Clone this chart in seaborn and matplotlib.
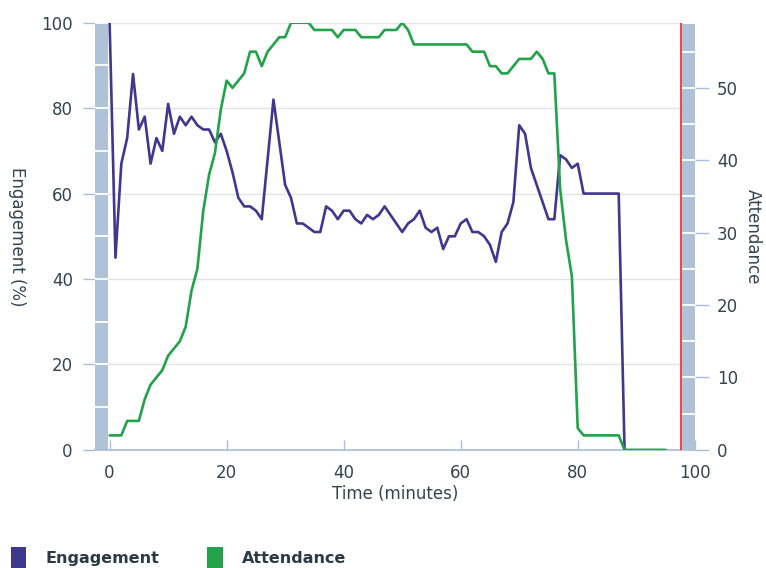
import matplotlib
matplotlib.use("Agg")
import matplotlib.pyplot as plt
from matplotlib.patches import Patch
import seaborn as sns
import pandas as pd

# engagement (%) per minute
eng_minutes = list(range(0, 89))
engagement = [100, 45, 67, 73, 88, 75, 78, 67, 73, 70,
              81, 74, 78, 76, 78, 76, 75, 75, 72, 74,
              70, 65, 59, 57, 57, 56, 54, 68, 82, 72,
              62, 59, 53, 53, 52, 51, 51, 57, 56, 54,
              56, 56, 54, 53, 55, 54, 55, 57, 55, 53,
              51, 53, 54, 56, 52, 51, 52, 47, 50, 50,
              53, 54, 51, 51, 50, 48, 44, 51, 53, 58,
              76, 74, 66, 62, 58, 54, 54, 69, 68, 66,
              67, 60, 60, 60, 60, 60, 60, 60, 0]

# attendance (people) per minute
att_minutes = list(range(0, 96))
attendance = [2, 2, 2, 4, 4, 4, 7, 9, 10, 11,
              13, 14, 15, 17, 22, 25, 33, 38, 41, 47,
              51, 50, 51, 52, 55, 55, 53, 55, 56, 57,
              57, 59, 59, 59, 59, 58, 58, 58, 58, 57,
              58, 58, 58, 57, 57, 57, 57, 58, 58, 58,
              59, 58, 56, 56, 56, 56, 56, 56, 56, 56,
              56, 56, 55, 55, 55, 53, 53, 52, 52, 53,
              54, 54, 54, 55, 54, 52, 52, 36, 29, 24,
              3, 2, 2, 2, 2, 2, 2, 2, 0, 0,
              0, 0, 0, 0, 0, 0]

x_ticks = [0, 20, 40, 60, 80, 100]
eng_ticks = [0, 20, 40, 60, 80, 100]
att_ticks = [0, 10, 20, 30, 40, 50]

PURPLE = "#40378f"
GREEN = "#22a24a"
BAND = "#b0c2d8"
TEXT = "#34444f"
TICK = "#a9bdd6"

eng_df = pd.DataFrame({"minute": eng_minutes, "engagement": engagement})
att_df = pd.DataFrame({"minute": att_minutes, "attendance": attendance})

sns.set_style("white")
plt.rcParams["font.family"] = ["DejaVu Sans"]

fig = plt.figure(figsize=(7.66, 5.68), dpi=100)
ax = fig.add_axes([0.124, 0.208, 0.783, 0.752])
ax2 = ax.twinx()

sns.lineplot(data=eng_df, x="minute", y="engagement", ax=ax, color=PURPLE, linewidth=1.9, zorder=3)
sns.lineplot(data=att_df, x="minute", y="attendance", ax=ax2, color=GREEN, linewidth=1.9, zorder=4)

ax.set_xlim(-2.5, 100)
ax.set_ylim(0, 100)
ax2.set_ylim(0, 59)

# scroll-bar like bands at both ends
ax.axvspan(-2.5, -0.3, color=BAND, lw=0, zorder=1)
ax.hlines(list(range(10, 101, 10)), -2.5, -0.3, color="white", lw=1.3, zorder=2)
ax2.axvspan(97.8, 100, color=BAND, lw=0, zorder=1)
ax2.hlines(list(range(5, 59, 5)) + [59], 97.8, 100, color="white", lw=1.3, zorder=2)
ax2.axvline(97.6, color="#e8262b", lw=1.2, zorder=5)

ax.set_yticks(eng_ticks)
ax.set_xticks(x_ticks)
ax2.set_yticks(att_ticks)
ax.yaxis.grid(True, color="#e4e4e4", lw=1)
ax.set_axisbelow(True)

for a in (ax, ax2):
    for s in a.spines.values():
        s.set_visible(False)
ax.spines["bottom"].set_visible(True)
ax.spines["bottom"].set_color(TICK)
ax.spines["bottom"].set_linewidth(1.2)

ax.tick_params(axis="y", left=True, length=9, width=1, color=TICK, pad=7, labelsize=12, labelcolor=TEXT)
ax.tick_params(axis="x", bottom=True, direction="in", length=7, width=1, color=TICK, pad=10,
               labelsize=12, labelcolor=TEXT)
ax2.tick_params(axis="y", right=True, length=10, width=1, color=TICK, pad=6, labelsize=12, labelcolor=TEXT)

ax.set_xlabel("Time (minutes)", fontsize=12, color=TEXT, labelpad=2)
ax.set_ylabel("Engagement (%)", fontsize=12, color=TEXT, rotation=270, labelpad=24)
ax2.set_ylabel("Attendance", fontsize=12, color=TEXT, rotation=270, labelpad=17)

handles = [Patch(facecolor=PURPLE, edgecolor="none", label="Engagement"),
           Patch(facecolor=GREEN, edgecolor="none", label="Attendance")]
leg = fig.legend(handles=handles, loc="lower left", bbox_to_anchor=(-0.004, -0.027), ncol=2,
                 frameon=False, handlelength=0.95, handleheight=1.7, handletextpad=1.2,
                 columnspacing=3.0, prop={"weight": "bold", "size": 11.5})
for t in leg.get_texts():
    t.set_color("#2b3a44")

fig.savefig("out.png", dpi=100)
